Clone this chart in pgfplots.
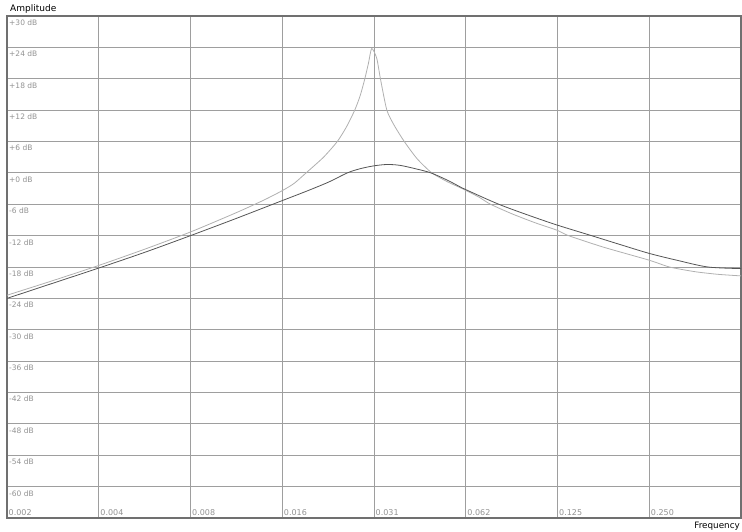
\documentclass[border=0pt]{standalone}
\usepackage{pgfplots}
\pgfplotsset{compat=1.18}
\usepackage{fontspec}
\setmainfont{DejaVu Sans}

\definecolor{gridgray}{HTML}{9E9E9E}
\definecolor{boxgray}{HTML}{707070}
\definecolor{labgray}{HTML}{929292}
\definecolor{lowq}{HTML}{555555}
\definecolor{highq}{HTML}{B0B0B0}

% x is the octave index: 0 = 0.002 (fs/512), 8 = 0.5
\pgfplotstableread{
k dB
0.00 -23.4
0.50 -20.6
1.00 -17.7
1.50 -14.6
2.00 -11.3
2.50 -7.6
2.80 -5.2
3.00 -3.4
3.13 -2.0
3.26 0.0
3.45 3.0
3.60 6.0
3.70 8.8
3.79 12.0
3.85 14.8
3.90 18.0
3.94 21.0
3.975 23.8
4.03 21.9
4.07 18.0
4.14 12.0
4.22 9.1
4.33 6.0
4.47 2.7
4.63 0.0
4.80 -1.7
4.96 -3.0
5.14 -4.6
5.27 -6.0
5.50 -7.8
5.75 -9.5
6.00 -11.0
6.12 -12.0
6.50 -14.2
7.00 -16.7
7.22 -18.0
7.50 -18.9
7.75 -19.4
8.00 -19.7
}\highq

\pgfplotstableread{
k dB
0.00 -24.0
0.50 -21.1
1.00 -18.2
1.50 -15.2
2.00 -12.0
2.50 -8.7
3.00 -5.3
3.25 -3.6
3.50 -1.8
3.71 0.0
3.85 0.8
4.00 1.35
4.14 1.6
4.28 1.45
4.45 0.8
4.62 0.0
4.80 -1.4
4.92 -2.5
5.00 -3.2
5.36 -6.0
5.70 -8.2
6.00 -10.0
6.37 -12.0
6.70 -13.8
7.00 -15.4
7.30 -16.7
7.64 -18.0
8.00 -18.3
}\lowq

\begin{document}
\begin{tikzpicture}
\path (-7pt,-13pt) rectangle (735pt,518pt);
\begin{axis}[
    scale only axis,
    width=734pt, height=502pt,
    xmin=0, xmax=8, ymin=-66, ymax=30,
    xtick={0,...,7},
    xticklabels={0.002,0.004,0.008,0.016,0.031,0.062,0.125,0.250},
    ytick={-60,-54,...,30},
    yticklabels={-60 dB,-54 dB,-48 dB,-42 dB,-36 dB,-30 dB,-24 dB,-18 dB,-12 dB,-6 dB,+0 dB,+6 dB,+12 dB,+18 dB,+24 dB,+30 dB},
    major tick length=0pt,
    grid=major,
    major grid style={gridgray, line width=0.9pt},
    axis line style={boxgray, line width=1.2pt},
    yticklabel style={anchor=north west, font=\fontsize{7.5}{8}\selectfont, text=labgray, inner sep=1pt, xshift=1pt, yshift=-2.5pt},
    xticklabel style={anchor=south west, font=\fontsize{8}{9}\selectfont, text=labgray, inner sep=1pt, xshift=0.5pt, yshift=1.5pt},
    every axis y label/.style={at={(rel axis cs:0,1)}, anchor=south west, font=\fontsize{9}{10}\selectfont, inner sep=1.5pt, xshift=1.5pt, yshift=0.5pt},
    every axis x label/.style={at={(rel axis cs:1,0)}, anchor=north east, font=\fontsize{8.8}{10}\selectfont, inner sep=1pt, yshift=-2.5pt},
    ylabel={Amplitude},
    xlabel={Frequency},
    clip=true,
]
\addplot[highq, line width=0.8pt, smooth, tension=0.4] table[x=k, y=dB] {\highq};
\addplot[lowq, line width=0.8pt, smooth, tension=0.5] table[x=k, y=dB] {\lowq};
\end{axis}
\end{tikzpicture}
\end{document}
